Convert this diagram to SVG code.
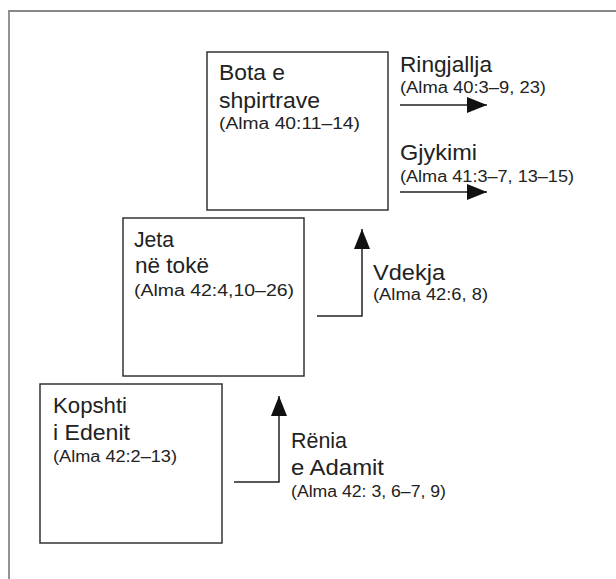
<svg xmlns="http://www.w3.org/2000/svg" width="616" height="579" viewBox="0 0 616 579">
<style>
.box{fill:#fff;stroke:#333;stroke-width:1.5}
.big{font-family:"Liberation Sans",Arial,sans-serif;font-size:22px;fill:#222}
.sm{font-family:"Liberation Sans",Arial,sans-serif;font-size:16px;fill:#222}
.ln{fill:none;stroke:#222;stroke-width:1.5}
.frame{fill:none;stroke:#888;stroke-width:1.8}
</style>
<defs>
<marker id="ah" markerUnits="userSpaceOnUse" markerWidth="20" markerHeight="16" refX="20" refY="8" orient="auto">
<path d="M0,0 L20,8 L0,16 Z" fill="#111"/>
</marker>
</defs>
<rect width="616" height="579" fill="#fff"/>
<path class="frame" d="M9,579 V11 H616"/>
<g id="bota">
<rect class="box" x="207" y="52" width="181" height="158"/>
<text class="big" x="219" y="80" textLength="66" lengthAdjust="spacingAndGlyphs">Bota e</text>
<text class="big" x="219" y="108" textLength="101" lengthAdjust="spacingAndGlyphs">shpirtrave</text>
<text class="sm" x="219" y="129" textLength="141" lengthAdjust="spacingAndGlyphs">(Alma 40:11–14)</text>
</g>
<g id="jeta">
<rect class="box" x="123" y="218" width="181" height="158"/>
<text class="big" x="134" y="247" textLength="40" lengthAdjust="spacingAndGlyphs">Jeta</text>
<text class="big" x="135" y="273" textLength="74" lengthAdjust="spacingAndGlyphs">në tokë</text>
<text class="sm" x="134" y="296" textLength="160" lengthAdjust="spacingAndGlyphs">(Alma 42:4,10–26)</text>
</g>
<g id="kopshti">
<rect class="box" x="40" y="384" width="182" height="159"/>
<text class="big" x="53" y="413" textLength="74" lengthAdjust="spacingAndGlyphs">Kopshti</text>
<text class="big" x="53" y="440" textLength="77" lengthAdjust="spacingAndGlyphs">i Edenit</text>
<text class="sm" x="53" y="462" textLength="124" lengthAdjust="spacingAndGlyphs">(Alma 42:2–13)</text>
</g>
<g id="connectors">
<line class="ln" x1="400" y1="105" x2="487" y2="105" marker-end="url(#ah)"/>
<line class="ln" x1="400" y1="192" x2="487" y2="192" marker-end="url(#ah)"/>
<polyline class="ln" points="317,316 362,316 362,229" marker-end="url(#ah)"/>
<polyline class="ln" points="234,482 279,482 279,396" marker-end="url(#ah)"/>
</g>
<g id="labels">
<text class="big" x="400" y="72" textLength="92" lengthAdjust="spacingAndGlyphs">Ringjallja</text>
<text class="sm" x="400" y="93" textLength="146" lengthAdjust="spacingAndGlyphs">(Alma 40:3–9, 23)</text>
<text class="big" x="400" y="160" textLength="77" lengthAdjust="spacingAndGlyphs">Gjykimi</text>
<text class="sm" x="400" y="182" textLength="174" lengthAdjust="spacingAndGlyphs">(Alma 41:3–7, 13–15)</text>
<text class="big" x="373" y="280" textLength="72" lengthAdjust="spacingAndGlyphs">Vdekja</text>
<text class="sm" x="373" y="300" textLength="115" lengthAdjust="spacingAndGlyphs">(Alma 42:6, 8)</text>
<text class="big" x="291" y="448" textLength="56" lengthAdjust="spacingAndGlyphs">Rënia</text>
<text class="big" x="291" y="475" textLength="93" lengthAdjust="spacingAndGlyphs">e Adamit</text>
<text class="sm" x="291" y="497" textLength="155" lengthAdjust="spacingAndGlyphs">(Alma 42: 3, 6–7, 9)</text>
</g>
</svg>
